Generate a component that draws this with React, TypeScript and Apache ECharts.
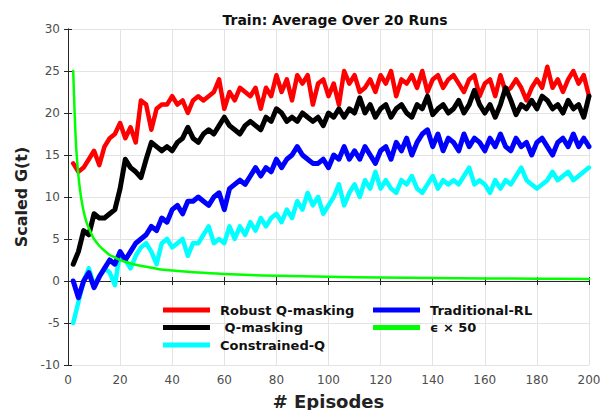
import React, { useEffect, useRef } from "react";
import * as echarts from "echarts";

const EPISODES = [
  2, 4, 6, 8, 10, 12, 14, 16, 18, 20, 22, 24, 26, 28, 30, 32, 34, 36, 38, 40,
  42, 44, 46, 48, 50, 52, 54, 56, 58, 60, 62, 64, 66, 68, 70, 72, 74, 76, 78, 80,
  82, 84, 86, 88, 90, 92, 94, 96, 98, 100, 102, 104, 106, 108, 110, 112, 114, 116, 118, 120,
  122, 124, 126, 128, 130, 132, 134, 136, 138, 140, 142, 144, 146, 148, 150, 152, 154, 156, 158, 160,
  162, 164, 166, 168, 170, 172, 174, 176, 178, 180, 182, 184, 186, 188, 190, 192, 194, 196, 198, 200,
];

const ROBUST = [
  14, 13, 13.5, 14.5, 15.5, 13.8, 16, 17, 17.5, 18.8,
  17, 18.3, 16.5, 21.5, 21, 18, 20.5, 21, 21, 22,
  21, 21.5, 20, 21.5, 22, 21.5, 22, 22.5, 24, 20.5,
  22.5, 21.5, 23, 22.5, 22, 23, 20.5, 23, 22, 24.5,
  22.5, 24, 21.5, 24.5, 23.5, 24.5, 21, 23.5, 24, 22,
  23.5, 21, 25, 23.5, 24.5, 22.5, 23, 24, 22.5, 24.5,
  23.5, 25, 22, 24, 23.5, 24.5, 23, 25, 22.5, 24,
  24.5, 23, 24, 24.5, 23.5, 22.5, 24, 24.5, 22, 23.5,
  24, 22, 24.5, 22.5, 23, 24, 23, 21.5, 23, 24,
  23, 25.5, 23, 24, 22.5, 24, 25, 23.5, 24.5, 22,
];

const QMASK = [
  2, 3.5, 6, 5.5, 8, 7.5, 7.5, 8, 8.5, 11,
  14.5, 13.5, 13, 12.3, 14.5, 16.5, 16, 15.5, 16, 15.5,
  16.5, 17, 18.3, 17, 16.5, 17.5, 18, 17.5, 18.5, 19.5,
  18.5, 18, 17.5, 18.5, 19, 18.5, 18, 19.5, 19, 20.5,
  20, 19, 19.5, 19, 20, 19.5, 19, 19.5, 18.5, 20,
  19.5, 20.5, 19.5, 20.5, 20, 21.8, 20, 21, 19.5, 20.5,
  21, 19.5, 20.5, 21, 20, 19.5, 21, 20.5, 22, 19.8,
  20.5, 21, 20, 20.5, 21.5, 20, 21, 22.7, 21, 20,
  21, 19.5, 21, 23, 21.5, 19.8, 21, 20.5, 21.5, 20.5,
  22, 21.5, 20.5, 21, 20, 21.5, 20.5, 21, 19.5, 22,
];

const CONSTRAINED = [
  -5, -2.5, 0, 1.5, -0.5, 0.5, 1.5, 1, -0.5, 3.5,
  2.5, 1.5, 3, 4, 4.5, 3.5, 2, 4.5, 5, 4,
  4.5, 5, 3, 4.5, 4.5, 5.5, 6.5, 4.5, 5, 4.5,
  6.5, 5, 6.5, 5.5, 7, 6, 7.5, 6.5, 7.5, 8,
  7, 8.5, 7.5, 9.5, 8.5, 10.5, 9, 10, 8, 9,
  10, 11.5, 9, 10.5, 11.5, 10, 12, 11, 13, 11,
  12, 11, 10.5, 12, 11.5, 12.5, 11, 10.5, 11.5, 12.5,
  11, 12, 11.5, 12, 11.5, 12.5, 13.5, 11.5, 12, 11.5,
  10.5, 12, 11, 12, 11.5, 12.5, 13.5, 12, 11.5, 11,
  11.5, 12, 13, 12, 12.5, 13, 12, 12.5, 13, 13.5,
];

const TRADITIONAL = [
  0, -2, 0, 1, -0.8, 0.5, 1.5, 2.5, 2, 3.5,
  2.5, 3.5, 4.5, 5, 5.5, 6.5, 6, 7.5, 7, 8.5,
  9, 8, 9.5, 9.5, 10, 9.5, 9, 10, 10.5, 8.5,
  11, 11.5, 12, 11.5, 12.5, 13.5, 12.5, 13.5, 13, 14.5,
  13.5, 14.5, 15, 16, 15, 14.5, 14, 14, 14.5, 13.5,
  15, 14.5, 16, 14.5, 15.5, 14.5, 16, 15, 14, 15.5,
  16, 14.5, 16.5, 15.5, 17, 15, 16.5, 17.5, 18, 16,
  17.5, 15.5, 17, 16.5, 15.5, 17.5, 16, 17, 16.5, 15.5,
  17, 16, 17.5, 16, 15.5, 17, 16, 16.5, 15, 16.5,
  17, 16, 15, 16.5, 17, 16, 17.5, 16, 17, 16,
];

const EPS_EPISODES = [2, 3, 4, 5, 6, 7, 8, 9, 10, 12, 14, 16, 18, 20, 25, 30, 35, 40, 50, 60, 70, 80, 100, 120, 140, 160, 180, 200];
const EPS_VALUES = [25, 16.7, 12.5, 10, 8.3, 7.1, 6.3, 5.6, 5, 4.2, 3.6, 3.1, 2.8, 2.5, 2, 1.7, 1.4, 1.25, 1, 0.83, 0.71, 0.63, 0.5, 0.42, 0.36, 0.31, 0.28, 0.25];

const X_TICKS = { min: 0, max: 200, interval: 20 };
const Y_TICKS = { min: -10, max: 30, interval: 5 };

const NAMES = {
  robust: "Robust Q-masking",
  qmask: " Q-masking",
  constrained: "Constrained-Q",
  traditional: "Traditional-RL",
  eps: "ϵ × 50",
};

const FONT = "'DejaVu Sans', 'Liberation Sans', Arial, sans-serif";

function pairs(xs: number[], ys: number[]) {
  return xs.map((x, i) => [x, ys[i]]);
}

export default function App() {
  const ref = useRef<HTMLDivElement>(null);
  useEffect(() => {
    if (!ref.current) return;
    const chart = echarts.init(ref.current, undefined, { renderer: "svg" });
    const axisColor = "#262626";
    const lineSeries = (name: string, data: number[][], color: string, width: number, z: number) => ({
      type: "line",
      name,
      data,
      symbol: "none",
      showSymbol: false,
      z,
      lineStyle: { color, width, join: "round", cap: "round" },
      itemStyle: { color },
    });
    const legendText = { fontFamily: FONT, fontWeight: "bold", fontSize: 13, color: "#111", lineHeight: 14, padding: [0, 0, 0, 5] };
    chart.setOption({
      animation: false,
      backgroundColor: "#ffffff",
      title: {
        text: "Train: Average Over 20 Runs",
        left: 330,
        top: 8,
        textAlign: "center",
        textStyle: { fontFamily: FONT, fontWeight: "bold", fontSize: 14, color: "#111" },
      },
      grid: { left: 68, right: 12, top: 29, bottom: 45, containLabel: false, outerBoundsMode: "none" },
      legend: [
        {
          data: [NAMES.robust, NAMES.qmask, NAMES.constrained],
          orient: "vertical",
          left: 163,
          top: 303,
          icon: "rect",
          itemWidth: 47,
          itemHeight: 5,
          itemGap: 3.5,
          padding: 0,
          textStyle: legendText,
        },
        {
          data: [NAMES.traditional, NAMES.eps],
          orient: "vertical",
          left: 373,
          top: 303,
          icon: "rect",
          itemWidth: 47,
          itemHeight: 5,
          itemGap: 3.5,
          padding: 0,
          textStyle: legendText,
        },
      ],
      xAxis: [
        {
          type: "value",
          ...X_TICKS,
          name: "# Episodes",
          nameLocation: "middle",
          nameGap: 27,
          nameTextStyle: { fontFamily: FONT, fontWeight: "bold", fontSize: 18, color: "#222" },
          axisLine: { show: true, lineStyle: { color: axisColor, width: 1 } },
          axisTick: { show: true, inside: true, length: 4, lineStyle: { color: axisColor } },
          axisLabel: { fontFamily: FONT, fontSize: 12, color: "#4d4d4d", margin: 9 },
          splitLine: { show: true, lineStyle: { color: "#e3e3e3", width: 1 } },
        },
        {
          type: "value",
          ...X_TICKS,
          position: "top",
          axisLine: { show: true, lineStyle: { color: axisColor, width: 1 } },
          axisTick: { show: true, inside: true, length: 4, lineStyle: { color: axisColor } },
          axisLabel: { show: false },
          splitLine: { show: false },
        },
      ],
      yAxis: [
        {
          type: "value",
          ...Y_TICKS,
          name: "Scaled G(t)",
          nameLocation: "middle",
          nameGap: 38,
          nameTextStyle: { fontFamily: FONT, fontWeight: "bold", fontSize: 16, color: "#222" },
          axisLine: { show: true, lineStyle: { color: axisColor, width: 1 } },
          axisTick: { show: true, inside: true, length: 4, lineStyle: { color: axisColor } },
          axisLabel: { fontFamily: FONT, fontSize: 12, color: "#4d4d4d", margin: 8 },
          splitLine: { show: true, lineStyle: { color: "#e3e3e3", width: 1 } },
        },
        {
          type: "value",
          ...Y_TICKS,
          position: "right",
          axisLine: { show: true, lineStyle: { color: axisColor, width: 1 } },
          axisTick: { show: true, inside: true, length: 4, lineStyle: { color: axisColor } },
          axisLabel: { show: false },
          splitLine: { show: false },
        },
      ],
      series: [
        lineSeries(NAMES.robust, pairs(EPISODES, ROBUST), "#ff0000", 4.5, 2),
        lineSeries(NAMES.qmask, pairs(EPISODES, QMASK), "#000000", 5, 3),
        lineSeries(NAMES.constrained, pairs(EPISODES, CONSTRAINED), "#00ffff", 4.5, 4),
        lineSeries(NAMES.traditional, pairs(EPISODES, TRADITIONAL), "#0000ff", 5, 5),
        { ...lineSeries(NAMES.eps, pairs(EPS_EPISODES, EPS_VALUES), "#00ff00", 2.5, 6), smooth: 0.3 },
      ],
    });
    return () => chart.dispose();
  }, []);
  return <div ref={ref} style={{ position: "fixed", left: 0, top: 0, width: 601, height: 410 }} />;
}
